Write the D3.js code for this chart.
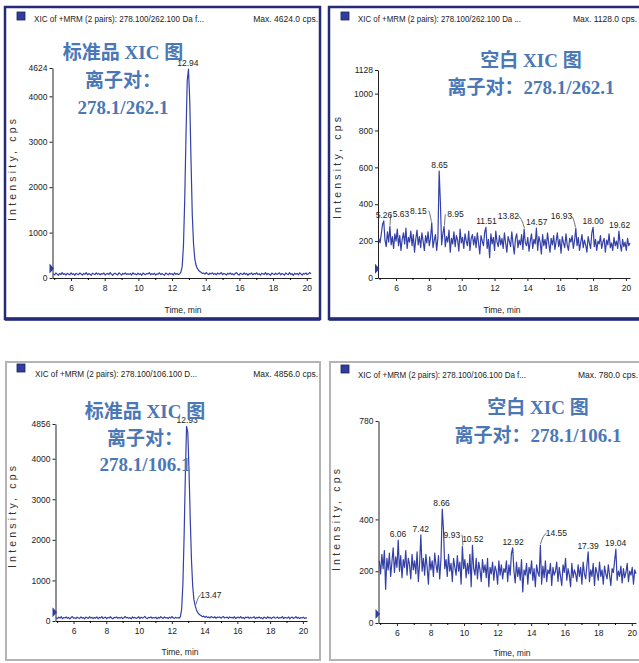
<!DOCTYPE html>
<html><head><meta charset="utf-8">
<script src="https://cdn.jsdelivr.net/npm/d3@7/dist/d3.min.js"></script>
<style>body{margin:0;background:#fff}svg{display:block}</style>
</head><body>
<svg id="c" width="639" height="663"></svg>
<script>
// ---------- DATA ----------
const scanStart = 4.95, scanStep = 0.075; // acquisition time of scan 0, and scan interval (min)
const xTicks = [6, 8, 10, 12, 14, 16, 18, 20];
const xMinorTicks = [5, 7, 9, 11, 13, 15, 17, 19];

const p1Title = "XIC of +MRM (2 pairs): 278.100/262.100 Da  f...";
const p1Max = "Max. 4624.0 cps.";
const p1YTicks = [0, 1000, 2000, 3000, 4000, 4624];
const p1Values = [
 90,70,110,85,60,100,75,120,80,95,65,105,85,70,115,80,95,60,100,85,
 75,110,90,65,100,80,120,70,95,85,60,105,90,75,115,80,100,70,95,85,
 110,65,90,100,75,120,85,60,95,105,80,70,115,90,65,100,85,110,75,95,
 80,100,65,115,85,90,70,105,80,95,60,110,85,75,100,90,120,70,95,80,
 105,65,90,85,115,75,100,80,60,110,90,70,105,85,95,65,115,80,100,75,
 90,130,250,700,1700,3100,4350,4600,3900,2600,1400,750,420,280,210,170,140,
 125,100,110,85,120,95,75,105,90,115,80,100,70,110,85,95,120,75,100,90,65,105,85,
 110,80,95,70,100,120,85,65,105,90,75,115,80,100,60,95,85,110,70,100,
 85,115,75,95,65,105,90,80,120,70,100,85,60,110,90,75,105,80,95,115,
 70,100,85,65,110,90,75,120,80,95,60,105,85,100,70,115,90,65,100,85,
 110,75,95,120,90];
const p1Labels = ["12.94"];
const p1Note = ["标准品 XIC 图", "离子对：", "278.1/262.1"];

const p2Title = "XIC of +MRM (2 pairs): 278.100/262.100 Da ...";
const p2Max = "Max. 1128.0 cps.";
const p2YTicks = [0, 200, 400, 600, 800, 1000, 1128];
const p2Values = [
 215,190,240,290,310,205,170,250,195,280,180,225,160,240,200,265,175,230,150,210,
 245,185,270,160,220,195,255,175,235,140,210,260,180,225,165,245,200,150,230,190,
 250,175,215,300,165,205,235,150,220,580,410,180,240,280,170,225,195,260,140,215,
 185,250,170,230,205,145,265,190,220,160,240,200,175,255,150,215,235,180,225,165,
 245,190,130,230,200,175,250,275,160,210,110,240,185,220,150,255,195,170,230,180,
 215,160,245,190,140,225,200,170,250,185,130,215,240,165,205,180,235,155,265,190,
 175,220,145,200,240,160,210,185,270,150,225,195,130,235,175,210,160,245,190,140,
 215,180,230,155,200,245,170,210,135,225,190,165,240,180,150,215,195,230,160,205,
 270,175,220,150,195,235,165,205,180,140,225,190,160,245,275,170,210,150,200,185,
 230,160,195,215,140,205,180,240,165,190,150,220,175,200,160,255,185,145,210,170,
 195,150,215,175,190];
const p2Labels = ["5.26","5.63","8.15","8.65","8.95","11.51","13.82","14.57","16.93","18.00","19.62"];
const p2Note = ["空白 XIC 图", "离子对：278.1/262.1"];

const p3Title = "XIC of +MRM (2 pairs): 278.100/106.100 D...";
const p3Max = "Max. 4856.0 cps.";
const p3YTicks = [0, 1000, 2000, 3000, 4000, 4856];
const p3Values = [
 80,60,95,70,105,55,85,75,100,65,90,50,85,110,70,80,60,95,75,65,
 100,70,85,55,95,80,65,105,75,90,60,85,70,100,55,90,75,110,65,80,
 95,60,85,75,105,70,55,90,80,100,65,85,70,95,60,80,110,75,90,65,
 85,55,100,75,90,65,80,105,60,95,70,85,115,75,60,90,80,100,65,85,
 75,95,55,90,70,105,80,65,100,75,85,60,95,70,110,80,65,90,75,85,
 70,110,300,900,2100,3600,4800,4650,3700,2500,1500,850,520,380,280,210,170,150,
 130,105,120,90,115,85,100,75,110,90,80,105,65,95,85,100,70,90,110,75,85,95,
 65,100,80,90,70,105,60,85,95,75,110,70,85,60,95,80,100,65,90,75,
 85,105,60,90,75,100,70,85,55,95,80,65,105,75,90,60,85,100,70,80,
 95,65,85,75,110,60,90,80,70,100,55,85,95,65,80,105,70,90,60,85,
 75,95,65,80,70];
const p3Labels = ["12.93", "13.47"];
const p3Note = ["标准品 XIC 图", "离子对：", "278.1/106.1"];

const p4Title = "XIC of +MRM (2 pairs): 278.100/106.100 Da  f...";
const p4Max = "Max. 780.0 cps.";
const p4YTicks = [0, 200, 400, 780];
const p4Values = [
 240,190,265,210,280,130,250,205,270,180,235,290,195,255,215,320,200,260,175,245,
 215,280,185,250,225,170,265,205,240,190,275,160,230,340,200,250,185,265,215,150,
 255,205,240,180,270,225,195,260,170,250,440,360,210,245,180,265,200,230,160,250,
 215,185,260,200,235,150,295,210,245,175,230,190,265,140,300,210,185,250,170,235,
 205,160,245,195,225,175,250,140,215,190,235,165,220,200,150,240,185,225,170,210,
 195,240,160,225,185,270,290,200,155,235,180,215,165,245,120,205,185,230,150,215,
 190,240,165,210,140,225,195,180,300,150,220,175,240,160,205,190,230,145,215,185,
 200,235,160,215,180,145,225,195,250,165,210,185,140,230,175,205,190,160,225,180,
 215,150,235,190,170,225,275,160,205,180,230,145,215,195,165,235,180,205,150,220,
 190,170,225,185,145,210,195,240,285,165,200,180,220,155,210,175,195,230,160,200,
 185,215,150,205,190];
const p4Labels = ["6.06","7.42","8.66","9.93","10.52","12.92","14.55","17.39","19.04"];
const p4Note = ["空白 XIC 图", "离子对：278.1/106.1"];

// ---------- LAYOUT / STYLE ----------
const NAVY = "#262b78", GRAY = "#b4b4b4", TRACE = "#3440a6", NOTE = "#4a77b6";
const small = "'Liberation Sans', Arial, sans-serif";
const noteFont = "'Liberation Serif', 'Times New Roman', 'Noto Sans CJK SC', serif";

// label offsets (style): [dx, dy, leader]
const leaderOffsets = {
  "5.63": [11, -6, true], "8.15": [-13, -6, true], "8.95": [11, -6, true],
  "13.82": [-16, -7, true], "16.93": [-14, -6, true],
  "9.93": [-11, -6, true], "14.55": [16, -6, true], "13.47": [15, -5, true]
};

const panels = [
  {values: p1Values, title: p1Title, max: p1Max, yTicks: p1YTicks, labels: p1Labels, note: p1Note,
   frame: {x: 5, y: 7, w: 315, h: 312, c: NAVY, sw: 2.5, bottom: 3.5},
   xr: [52.5, 311], yr: [278, 68], head: {sq: 17, y: 12, tx: 34, ty: 22, tl: 170, mx: 318},
   ylab: {x: 16, y: 170}, xlab: {x: 183, y: 313}, noteX: 123, noteY: [59, 87, 114], noteAnchor: "middle"},
  {values: p2Values, title: p2Title, max: p2Max, yTicks: p2YTicks, labels: p2Labels, note: p2Note,
   frame: {x: 329, y: 7, w: 320, h: 312, c: NAVY, sw: 2.5, bottom: 3.5},
   xr: [378, 630], yr: [278, 70], head: {sq: 341, y: 12, tx: 358, ty: 22, tl: 163, mx: 637},
   ylab: {x: 341, y: 168}, xlab: {x: 502, y: 313}, noteX: 531, noteY: [67, 94], noteAnchor: "middle"},
  {values: p3Values, title: p3Title, max: p3Max, yTicks: p3YTicks, labels: p3Labels, note: p3Note,
   frame: {x: 6, y: 362, w: 314, h: 298, c: GRAY, sw: 2, bottom: 2},
   xr: [55.5, 307], yr: [621, 424], head: {sq: 17, y: 364, tx: 35, ty: 377, tl: 162, mx: 318},
   ylab: {x: 16, y: 517}, xlab: {x: 180, y: 655}, noteX: 145, noteY: [418, 445, 471], noteAnchor: "middle"},
  {values: p4Values, title: p4Title, max: p4Max, yTicks: p4YTicks, labels: p4Labels, note: p4Note,
   frame: {x: 330, y: 362, w: 320, h: 298, c: GRAY, sw: 2, bottom: 2},
   xr: [378.5, 636], yr: [623, 421], head: {sq: 341, y: 365, tx: 358, ty: 378, tl: 168, mx: 638},
   ylab: {x: 340, y: 520}, xlab: {x: 512, y: 656}, noteX: 538, noteY: [414, 442], noteAnchor: "middle"}
];

const svg = d3.select("#c");

panels.forEach(p => {
  const g = svg.append("g");
  const f = p.frame;
  g.append("rect").attr("x", f.x).attr("y", f.y).attr("width", f.w).attr("height", f.h)
    .attr("fill", "#fff").attr("stroke", f.c).attr("stroke-width", f.sw);
  g.append("line").attr("x1", f.x).attr("x2", f.x + f.w).attr("y1", f.y + f.h).attr("y2", f.y + f.h)
    .attr("stroke", f.c).attr("stroke-width", f.bottom);

  g.append("rect").attr("x", p.head.sq).attr("y", p.head.y).attr("width", 8).attr("height", 8)
    .attr("fill", "#2f3d9e").attr("stroke", "#1c2260").attr("stroke-width", 0.8);
  g.append("text").attr("x", p.head.tx).attr("y", p.head.ty).attr("font-family", small)
    .attr("font-size", 8.5).attr("fill", "#222").attr("textLength", p.head.tl)
    .attr("lengthAdjust", "spacingAndGlyphs").text(p.title);
  g.append("text").attr("x", p.head.mx).attr("y", p.head.ty).attr("font-family", small)
    .attr("font-size", 8.5).attr("fill", "#222").attr("text-anchor", "end").text(p.max);

  const x = d3.scaleLinear().domain([4.9, 20.25]).range(p.xr);
  const yMax = p.yTicks[p.yTicks.length - 1];
  const y = d3.scaleLinear().domain([0, yMax]).range(p.yr);

  const yAxis = d3.axisLeft(y).tickValues(p.yTicks).tickSize(3).tickSizeOuter(0).tickPadding(2)
    .tickFormat(d3.format("d"));
  const ya = g.append("g").attr("transform", `translate(${p.xr[0]},0)`).call(yAxis);
  const xAxis = d3.axisBottom(x).tickValues(xTicks).tickSize(3).tickSizeOuter(0).tickPadding(4)
    .tickFormat(d3.format("d"));
  const xa = g.append("g").attr("transform", `translate(0,${p.yr[0]})`).call(xAxis);
  const xm = d3.axisBottom(x).tickValues(xMinorTicks).tickSize(2).tickSizeOuter(0).tickFormat("");
  g.append("g").attr("transform", `translate(0,${p.yr[0]})`).call(xm).select(".domain").remove();
  [ya, xa].forEach(a => {
    a.selectAll("text").attr("font-family", small).attr("font-size", 8.5).attr("fill", "#222");
    a.selectAll("path,line").attr("stroke", "#222");
  });

  const pts = p.values.map((v, i) => [scanStart + i * scanStep, v]);
  g.append("path").datum(pts).attr("fill", "none").attr("stroke", TRACE).attr("stroke-width", 1.2)
    .attr("stroke-linejoin", "round")
    .attr("d", d3.line().x(d => x(d[0])).y(d => y(d[1])));

  const ty = y(yMax * 0.045);
  g.append("path").attr("d", `M${p.xr[0] - 3},${ty - 5} L${p.xr[0] + 1.5},${ty} L${p.xr[0] - 3},${ty + 5} Z`)
    .attr("fill", "#2f3d9e");

  g.append("text").attr("transform", `translate(${p.ylab.x},${p.ylab.y}) rotate(-90)`)
    .attr("text-anchor", "middle").attr("font-family", small).attr("font-size", 10.5)
    .attr("fill", "#333").attr("textLength", 102).attr("lengthAdjust", "spacing").text("Intensity, cps");
  g.append("text").attr("x", p.xlab.x).attr("y", p.xlab.y).attr("text-anchor", "middle")
    .attr("font-family", small).attr("font-size", 8.5).attr("fill", "#222").text("Time, min");

  p.labels.forEach(lab => {
    const t = +lab;
    let lm = 0;
    pts.forEach(d => { if (Math.abs(d[0] - t) <= 0.08) lm = Math.max(lm, d[1]); });
    const px = x(t), py = y(lm);
    const o = leaderOffsets[lab] || [0, 0, false];
    const lx = px + o[0], ly = py - 3 + o[1];
    g.append("text").attr("x", lx).attr("y", ly).attr("text-anchor", "middle")
      .attr("font-family", small).attr("font-size", 8.5).attr("fill", "#222").text(lab);
    if (o[2]) {
      const ex = o[0] > 0 ? lx - 10 : lx + 10;
      g.append("path").attr("d", `M${px},${py - 1} Q${(px + ex) / 2},${ly - 2} ${ex},${ly - 3}`)
        .attr("fill", "none").attr("stroke", "#333").attr("stroke-width", 0.7);
    }
  });

  p.g = g;
});

panels.forEach(p => {
  p.note.forEach((line, i) => {
    p.g.append("text").attr("x", p.noteX).attr("y", p.noteY[i]).attr("text-anchor", p.noteAnchor)
      .attr("font-family", noteFont).attr("font-weight", "bold").attr("font-size", 19)
      .attr("fill", NOTE).text(line);
  });
});
</script>
</body></html>
